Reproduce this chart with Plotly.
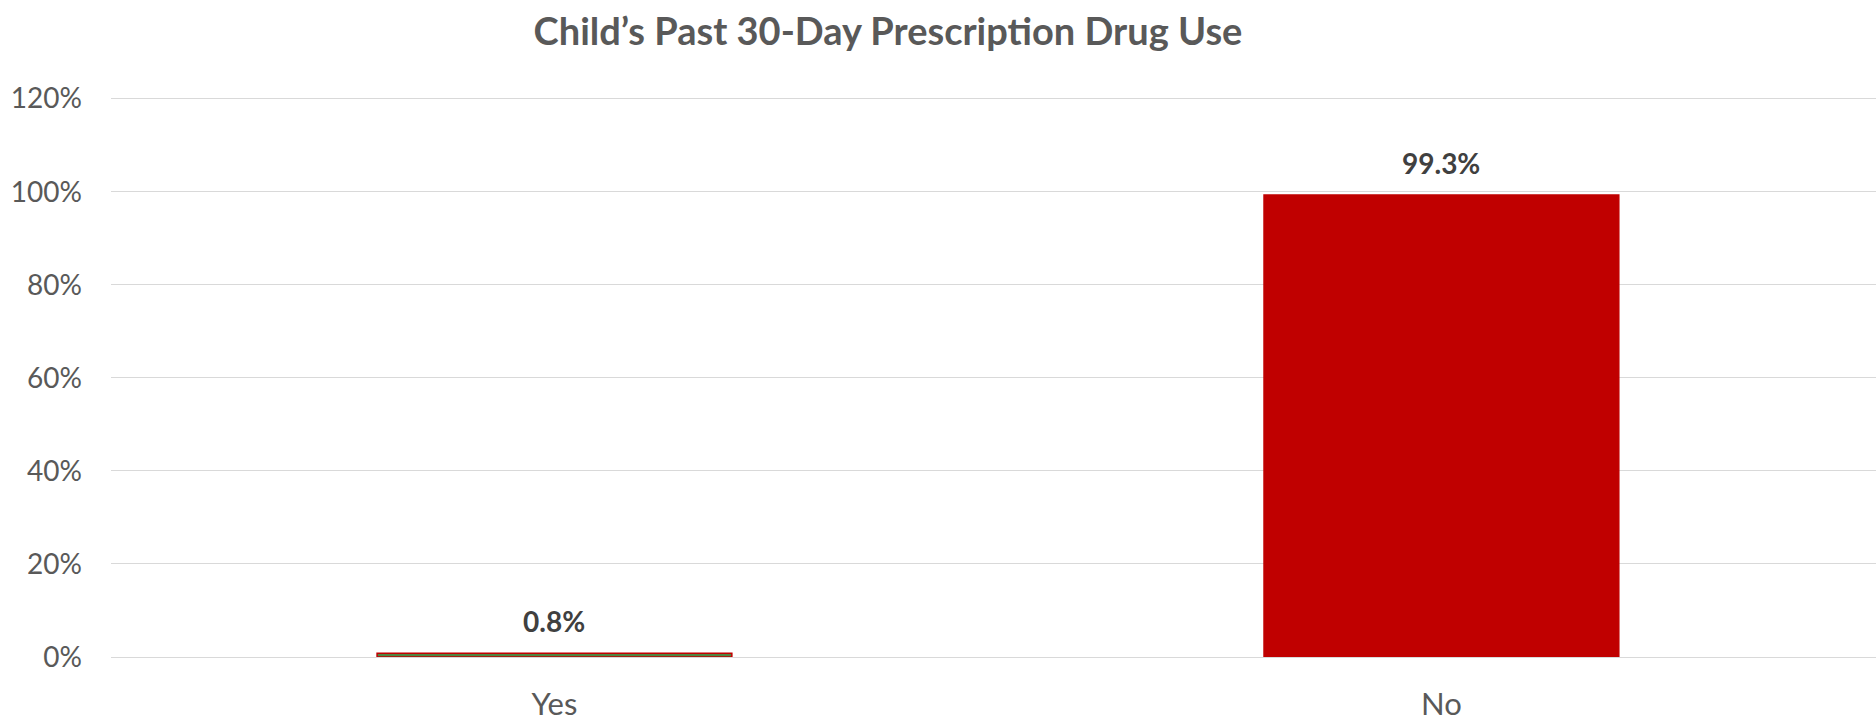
import plotly.graph_objects as go

categories = ["Yes", "No"]
values = [0.008, 0.993]
labels = ["0.8%", "99.3%"]
fill_colors = ["#4E8542", "#C00000"]
y_ticks = [0, 0.2, 0.4, 0.6, 0.8, 1.0, 1.2]
y_tick_text = ["0%", "20%", "40%", "60%", "80%", "100%", "120%"]

FONT = "Lato"

fig = go.Figure()
fig.add_trace(go.Bar(
    x=categories, y=values, width=0.40,
    marker=dict(color=fill_colors, line=dict(color="#C00000", width=1.5)),
    hoverinfo="skip",
))

for c, v, t in zip(categories, values, labels):
    fig.add_annotation(x=c, y=v, text=f"<b>{t}</b>", showarrow=False,
                       yanchor="bottom", yshift=13,
                       font=dict(family=FONT, size=28, color="#404040"))

fig.update_layout(
    width=1876, height=721,
    paper_bgcolor="white", plot_bgcolor="white",
    margin=dict(l=111, r=0, t=94, b=64),
    showlegend=False,
    title=dict(text="<b>Child’s Past 30-Day Prescription Drug Use</b>",
               x=888 / 1876, xref="container", xanchor="center",
               y=1 - 32 / 721, yanchor="middle",
               font=dict(family=FONT, size=38, color="#595959")),
    xaxis=dict(range=[-0.5, 1.49], showgrid=False, showline=False, zeroline=False,
               ticks="", tickfont=dict(family=FONT, size=31, color="#595959"),
               ticklabelstandoff=26),
    yaxis=dict(range=[0, 1.21], tickvals=y_ticks, ticktext=y_tick_text,
               showgrid=True, gridcolor="#D9D9D9", gridwidth=1.3,
               zeroline=True, zerolinecolor="#D9D9D9", zerolinewidth=1.3,
               showline=False, ticks="",
               tickfont=dict(family=FONT, size=28, color="#595959"),
               ticklabelstandoff=28),
)

fig.write_html("out.html", config={"displayModeBar": False},
               post_script="document.body.style.margin='0';document.body.style.overflow='hidden';")
